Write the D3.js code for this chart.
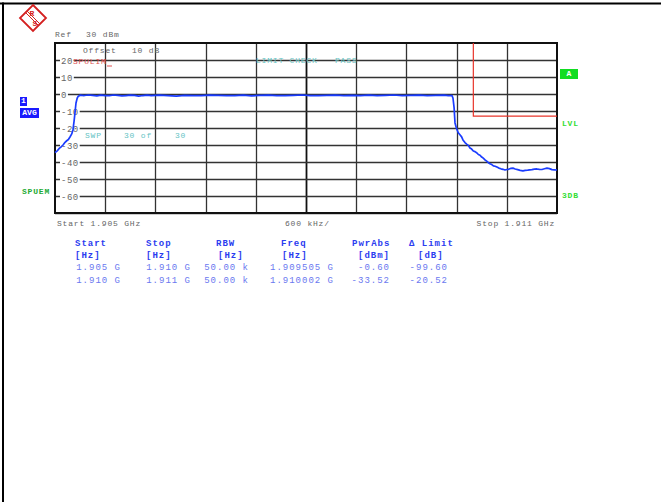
<!DOCTYPE html>
<html>
<head>
<meta charset="utf-8">
<script src="https://cdn.jsdelivr.net/npm/d3@7"></script>
<style>
  html, body { margin: 0; padding: 0; background: #fff; }
  svg text { font-family: "Liberation Mono", "DejaVu Sans Mono", monospace; }
</style>
</head>
<body>
<div id="chart"></div>
<script>
// spectrum plot, R&S style printout
const startGHz = 1.905;
const stopGHz = 1.911;
const refLevel = 30;
const yTicks = [20, 10, 0, -10, -20, -30, -40, -50, -60];

// trace: offset from start in kHz, level in dBm
const traceKHz = [0, 12, 30, 50, 70, 96, 120, 140, 160, 179, 200, 215, 228, 239, 251, 265, 275, 299,
  350, 400, 450, 500, 550, 600, 650, 700, 750, 800, 850, 900, 950, 1000, 1050, 1100, 1150, 1200,
  1250, 1350, 1450, 1550, 1650, 1750, 1850, 1950, 2050, 2150, 2250, 2350, 2450, 2550, 2650, 2750,
  2850, 2950, 3050, 3150, 3250, 3350, 3450, 3550, 3650, 3750, 3850, 3950, 4050, 4150, 4250, 4350,
  4450, 4550, 4650, 4700, 4745, 4757, 4770, 4781, 4795, 4805, 4820, 4840, 4860, 4876, 4900, 4920,
  4940, 4960, 4980, 5000, 5020, 5043, 5060, 5080, 5100, 5115, 5140, 5160, 5180, 5199, 5220, 5240,
  5260, 5282, 5305, 5330, 5355, 5378, 5400, 5420, 5445, 5474, 5500, 5530, 5560, 5593, 5620, 5650,
  5675, 5700, 5730, 5760, 5790, 5820, 5850, 5880, 5910, 5940, 5970, 6000];
const traceDbm = [-34.5, -34, -33.3, -32, -31.2, -30, -28.4, -27.5, -26.8, -25.3, -23.5, -21, -16, -11, -5.3, -2.5, -1.5, -0.7,
  -0.9, -0.6, -0.8, -1.1, -0.7, -0.9, -1.0, -0.6, -0.8, -1.1, -0.9, -0.7, -0.8, -1.2, -0.9, -0.7, -1.0, -0.8,
  -0.7, -0.9, -1.2, -0.8, -0.9, -1.0, -0.7, -0.8, -1.0, -0.9, -0.7, -1.1, -0.8, -0.7, -0.9, -1.0,
  -0.8, -0.6, -0.9, -1.0, -0.8, -0.7, -1.0, -0.8, -0.9, -0.7, -1.0, -0.8, -0.6, -0.9, -0.8, -0.7,
  -0.9, -0.8, -0.7, -1.0, -0.9, -2.5, -8, -17, -19.5, -21, -22.8, -24, -25.2, -27, -28.6, -29.5,
  -30.2, -31.8, -32.4, -33.5, -33.9, -34.7, -35.6, -36, -37.1, -37.6, -38.8, -39.5, -40.4, -41, -41.5, -42.3,
  -42.5, -43, -43.6, -44, -44.3, -44.7, -44.4, -44.3, -43.8, -43.6, -44.1, -44.5, -44.9, -45.2, -44.9, -44.8,
  -44.6, -44.5, -44.2, -44.1, -44.3, -44.4, -44.0, -43.6, -43.9, -44.5, -44.6, -44.7];

// limit line SPULIM
const limitGHz = [1.910, 1.910, 1.911];
const limitDbm = [30, -13, -13];

// marker / limit table
const tableCols = ["Start", "Stop", "RBW", "Freq", "PwrAbs", "\u0394 Limit"];
const tableUnits = ["[Hz]", "[Hz]", "[Hz]", "[Hz]", "[dBm]", "[dB]"];
const tableRows = [
  ["1.905 G", "1.910 G", "50.00 k", "1.909505 G", "-0.60", "-99.60"],
  ["1.910 G", "1.911 G", "50.00 k", "1.910002 G", "-33.52", "-20.52"],
];

const W = 661, H = 502;
const svg = d3.select("#chart").append("svg").attr("width", W).attr("height", H);

// page frame (top + left)
svg.append("line").attr("x1", 0).attr("x2", W).attr("y1", 3.5).attr("y2", 3.5)
  .attr("stroke", "#000").attr("stroke-width", 2);
svg.append("line").attr("x1", 3).attr("x2", 3).attr("y1", 2.5).attr("y2", H)
  .attr("stroke", "#000").attr("stroke-width", 2);

// logo
const red = "#d42020";
const logo = svg.append("g").attr("transform", "translate(33,18)");
logo.append("path").attr("d", "M0,-13 L13,0 L0,13 L-13,0 Z")
  .attr("fill", "#fff").attr("stroke", red).attr("stroke-width", 1.8);
logo.append("line").attr("x1", -6).attr("y1", -7).attr("x2", 7).attr("y2", 6)
  .attr("stroke", red).attr("stroke-width", 1);
logo.append("line").attr("x1", -7).attr("y1", -5).attr("x2", 5).attr("y2", 7)
  .attr("stroke", red).attr("stroke-width", 1);
logo.append("text").attr("x", -1).attr("y", -2).attr("font-size", 8).attr("font-weight", "bold")
  .attr("fill", red).attr("text-anchor", "middle").text("R");
logo.append("text").attr("x", 2).attr("y", 8).attr("font-size", 8).attr("font-weight", "bold")
  .attr("fill", red).attr("text-anchor", "middle").text("S");

const L = 55, R = 557, T = 43, B = 213;
const x = d3.scaleLinear().domain([startGHz, stopGHz]).range([L, R]);
const y = d3.scaleLinear().domain([refLevel - 100, refLevel]).range([B, T]);

const small = (sel) => sel.attr("font-size", 8).attr("letter-spacing", 0.8);

// grid
const grid = svg.append("g");
grid.selectAll("line.v").data(d3.range(1, 10)).join("line")
  .attr("x1", (i) => Math.round(x(startGHz + i * 0.0006)) + 0.5)
  .attr("x2", (i) => Math.round(x(startGHz + i * 0.0006)) + 0.5)
  .attr("y1", T).attr("y2", B)
  .attr("stroke", (i) => (i === 5 ? "#111" : "#333"))
  .attr("stroke-width", (i) => (i === 5 ? 1.8 : 1.3));
grid.selectAll("line.h").data(yTicks.concat([-70 + 0])).join("line")
  .attr("x1", L).attr("x2", R)
  .attr("y1", (d) => Math.round(y(d)) + 0.5).attr("y2", (d) => Math.round(y(d)) + 0.5)
  .attr("stroke", "#333").attr("stroke-width", 1.3);

// y tick labels over the grid
const yl = svg.append("g");
yTicks.forEach((d) => {
  const t = yl.append("text").attr("x", 61).attr("y", Math.round(y(d)) + 3.5)
    .attr("font-size", 9).attr("fill", "#666").attr("letter-spacing", 0.5).text(d);
  const bb = t.node().getBBox();
  yl.insert("rect", "text").attr("x", bb.x - 1).attr("y", bb.y + 1)
    .attr("width", bb.width + 2).attr("height", bb.height - 2).attr("fill", "#fff");
});

// frame
svg.append("rect").attr("x", L).attr("y", T).attr("width", R - L).attr("height", B - T)
  .attr("fill", "none").attr("stroke", "#111").attr("stroke-width", 2);

// limit line
svg.append("path")
  .attr("d", d3.line().x((d, i) => x(limitGHz[i])).y((d) => y(d))(limitDbm))
  .attr("fill", "none").attr("stroke", "#e8352a").attr("stroke-width", 1.2);

// trace
svg.append("path")
  .attr("d", d3.line().x((d) => x(startGHz + d / 1e6)).y((d, i) => y(traceDbm[i]))(traceKHz))
  .attr("fill", "none").attr("stroke", "#1a3cff").attr("stroke-width", 1.7)
  .attr("stroke-linejoin", "round");

// annotations
small(svg.append("text").attr("x", 55).attr("y", 37).attr("fill", "#666").text("Ref"));
small(svg.append("text").attr("x", 86).attr("y", 37).attr("fill", "#666").text("30 dBm"));
small(svg.append("text").attr("x", 83).attr("y", 53).attr("fill", "#666").text("Offset"));
small(svg.append("text").attr("x", 132).attr("y", 53).attr("fill", "#666").text("10 dB"));
small(svg.append("text").attr("x", 73).attr("y", 64).attr("fill", "#e05050").text("SPULIM"));
svg.append("line").attr("x1", 107).attr("x2", 112).attr("y1", 66).attr("y2", 66)
  .attr("stroke", "#e05050").attr("stroke-width", 1);
small(svg.append("text").attr("x", 256).attr("y", 63).attr("fill", "#66c4c4").text("LIMIT CHECK"));
small(svg.append("text").attr("x", 335).attr("y", 63).attr("fill", "#66c4c4").text("PASS"));
small(svg.append("text").attr("x", 85).attr("y", 138).attr("fill", "#66c4c4").text("SWP"));
small(svg.append("text").attr("x", 124).attr("y", 138).attr("fill", "#66c4c4").text("30 of"));
small(svg.append("text").attr("x", 175).attr("y", 138).attr("fill", "#66c4c4").text("30"));

small(svg.append("text").attr("x", 57).attr("y", 226).attr("fill", "#666").text("Start  1.905 GHz"));
small(svg.append("text").attr("x", 285).attr("y", 226).attr("fill", "#666").text("600 kHz/"));
small(svg.append("text").attr("x", 555).attr("y", 226).attr("fill", "#666")
  .attr("text-anchor", "end").text("Stop  1.911 GHz"));

// side badges
function badge(bx, by, bw, bh, fill, label) {
  svg.append("rect").attr("x", bx).attr("y", by).attr("width", bw).attr("height", bh).attr("fill", fill);
  svg.append("text").attr("x", bx + bw / 2).attr("y", by + bh - 3).attr("text-anchor", "middle")
    .attr("font-size", 8).attr("font-weight", "bold").attr("fill", "#fff").text(label);
}
badge(20, 97, 7, 9, "#1a1aff", "1");
badge(20, 108, 19, 10, "#1a1aff", "AVG");
badge(560, 69, 18, 10, "#11dd22", "A");
small(svg.append("text").attr("x", 22).attr("y", 194).attr("fill", "#22aa33").attr("font-weight", "bold").text("SPUEM"));
small(svg.append("text").attr("x", 562).attr("y", 126).attr("fill", "#33dd33").attr("font-weight", "bold").text("LVL"));
small(svg.append("text").attr("x", 562).attr("y", 198).attr("fill", "#33dd33").attr("font-weight", "bold").text("3DB"));

// table
const colStart = [75, 146, 216, 281, 352, 409];
const unitStart = [75, 146, 218, 282, 358, 418];
const valEnd = [120, 190, 248, 333, 389, 447];
const tbl = svg.append("g").attr("font-size", 9).attr("letter-spacing", 1);
tbl.selectAll("text.h").data(tableCols).join("text")
  .attr("x", (d, i) => colStart[i]).attr("y", 246)
  .attr("font-weight", "bold").attr("fill", "#2b3cf0").text((d) => d);
tbl.selectAll("text.u").data(tableUnits).join("text")
  .attr("x", (d, i) => unitStart[i]).attr("y", 258)
  .attr("font-weight", "bold").attr("fill", "#2b3cf0").text((d) => d);
tableRows.forEach((row, r) => {
  tbl.append("g").selectAll("text").data(row).join("text")
    .attr("x", (d, i) => valEnd[i] + 1).attr("y", 270 + r * 13)
    .attr("text-anchor", "end").attr("fill", "#6a78f0").text((d) => d);
});
</script>
</body>
</html>
